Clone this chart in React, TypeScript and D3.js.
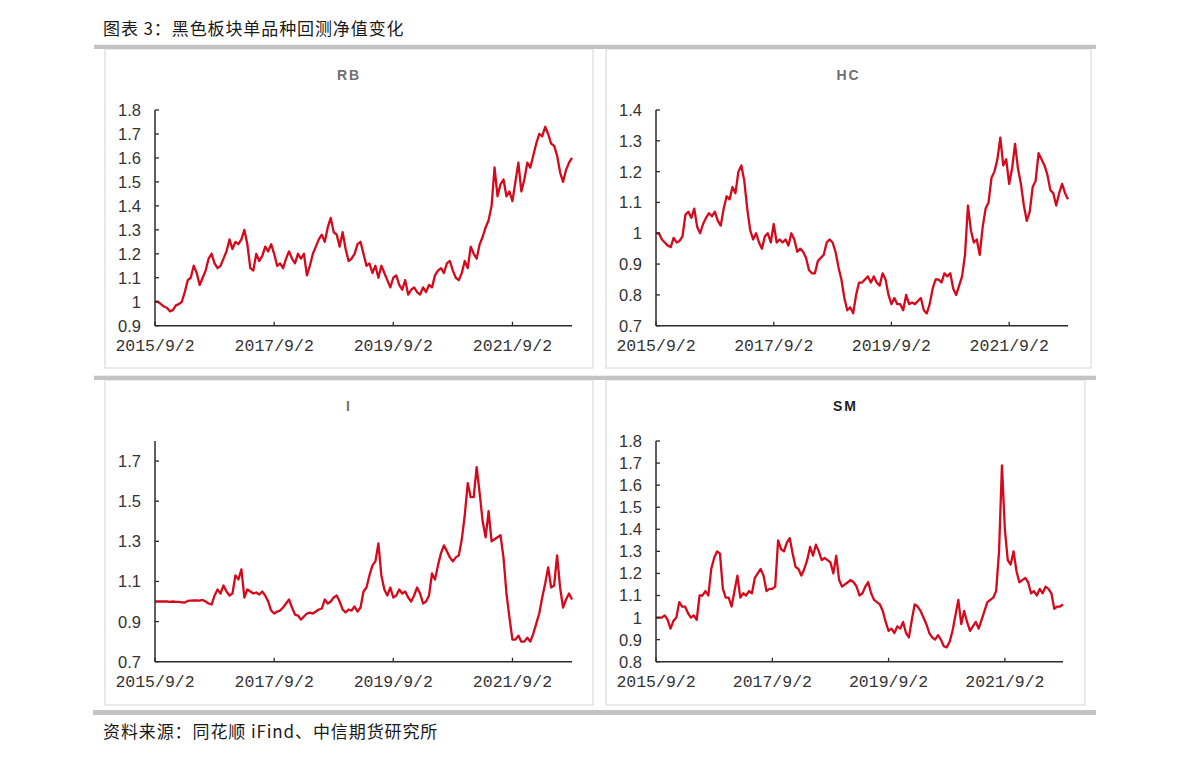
import React from "react";
import * as d3 from "d3";

// ---------- data ----------
const startDate = "2015/9/2";
const endDate = "2022/9/2";
const xTickLabels = ["2015/9/2", "2017/9/2", "2019/9/2", "2021/9/2"];

const rbValues = [
  1.00, 1.00, 0.99, 0.98, 0.975, 0.96, 0.965, 0.985, 0.99, 1.00,
  1.04, 1.09, 1.10, 1.15, 1.12, 1.07, 1.10, 1.13, 1.18, 1.20,
  1.16, 1.14, 1.15, 1.18, 1.21, 1.26, 1.22, 1.25, 1.24, 1.26,
  1.30, 1.24, 1.14, 1.13, 1.20, 1.17, 1.19, 1.23, 1.21, 1.24,
  1.20, 1.15, 1.16, 1.14, 1.18, 1.21, 1.18, 1.16, 1.20, 1.18,
  1.20, 1.11, 1.15, 1.20, 1.23, 1.26, 1.28, 1.25, 1.31, 1.35,
  1.29, 1.28, 1.23, 1.29, 1.22, 1.17, 1.18, 1.20, 1.24, 1.25,
  1.20, 1.15, 1.16, 1.12, 1.15, 1.10, 1.15, 1.12, 1.09, 1.06,
  1.10, 1.11, 1.07, 1.05, 1.09, 1.03, 1.05, 1.06, 1.04, 1.03,
  1.06, 1.04, 1.07, 1.06, 1.11, 1.13, 1.14, 1.12, 1.16, 1.17,
  1.13, 1.10, 1.09, 1.12, 1.17, 1.14, 1.23, 1.20, 1.18, 1.24,
  1.27, 1.31, 1.34, 1.40, 1.56, 1.44, 1.49, 1.51, 1.44, 1.46,
  1.42, 1.50, 1.58, 1.46, 1.51, 1.58, 1.56, 1.61, 1.66, 1.70,
  1.69, 1.73, 1.70, 1.66, 1.65, 1.61, 1.54, 1.50, 1.55, 1.58,
  1.60,
];

const hcValues = [
  1.00, 1.00, 0.98, 0.97, 0.96, 0.955, 0.985, 0.97, 0.975, 0.99,
  1.06, 1.07, 1.05, 1.08, 1.02, 1.00, 1.03, 1.05, 1.065, 1.055,
  1.07, 1.04, 1.025, 1.08, 1.12, 1.11, 1.15, 1.13, 1.20, 1.22,
  1.17, 1.08, 1.01, 0.98, 1.00, 0.97, 0.95, 0.99, 1.00, 0.97,
  1.03, 0.97, 0.98, 0.97, 0.98, 0.96, 1.00, 0.98, 0.94, 0.95,
  0.94, 0.92, 0.88, 0.87, 0.87, 0.91, 0.92, 0.93, 0.97, 0.98,
  0.97, 0.94, 0.89, 0.85, 0.79, 0.75, 0.76, 0.74, 0.80, 0.84,
  0.84, 0.85, 0.86, 0.84, 0.86, 0.84, 0.83, 0.87, 0.85, 0.80,
  0.77, 0.79, 0.77, 0.77, 0.75, 0.80, 0.77, 0.775, 0.77, 0.78,
  0.79, 0.75, 0.74, 0.77, 0.82, 0.85, 0.85, 0.84, 0.87, 0.86,
  0.87, 0.82, 0.80, 0.83, 0.86, 0.93, 1.09, 1.01, 0.97, 0.98,
  0.93, 1.02, 1.08, 1.10, 1.18, 1.20, 1.24, 1.31, 1.22, 1.24,
  1.16, 1.21, 1.29, 1.21, 1.16, 1.09, 1.04, 1.07, 1.15, 1.17,
  1.26, 1.24, 1.22, 1.19, 1.14, 1.13, 1.09, 1.13, 1.16, 1.13,
  1.11,
];

const iValues = [
  1.00, 1.00, 1.00, 1.00, 1.00, 0.998, 1.00, 0.998, 0.998, 0.996,
  0.995, 1.003, 1.004, 1.005, 1.006, 1.004, 1.008, 1.00, 0.99, 0.985,
  1.03, 1.06, 1.04, 1.08, 1.05, 1.03, 1.04, 1.13, 1.11, 1.16,
  1.02, 1.06, 1.05, 1.04, 1.045, 1.035, 1.05, 1.03, 1.00, 0.955,
  0.94, 0.95, 0.955, 0.97, 0.99, 1.01, 0.97, 0.935, 0.93, 0.91,
  0.925, 0.94, 0.945, 0.94, 0.95, 0.96, 0.965, 1.01, 0.99, 1.00,
  1.02, 1.03, 1.00, 0.96, 0.945, 0.96, 0.955, 0.975, 0.95, 0.97,
  1.05, 1.07, 1.13, 1.18, 1.20, 1.29, 1.13, 1.06, 1.03, 1.07,
  1.02, 1.03, 1.06, 1.04, 1.05, 1.02, 1.00, 1.03, 1.07, 1.04,
  0.99, 1.00, 1.03, 1.14, 1.11, 1.18, 1.24, 1.28, 1.25, 1.22,
  1.20, 1.22, 1.23, 1.31, 1.43, 1.59, 1.52, 1.52, 1.67, 1.54,
  1.40, 1.32, 1.45, 1.30, 1.31, 1.32, 1.33, 1.22, 1.04, 0.92,
  0.81, 0.81, 0.83, 0.80, 0.80, 0.82, 0.80, 0.84, 0.89, 0.94,
  1.02, 1.09, 1.17, 1.07, 1.08, 1.23, 1.07, 0.97, 1.01, 1.04,
  1.01,
];

const smValues = [
  1.00, 1.00, 1.00, 1.01, 0.99, 0.95, 0.985, 1.00, 1.07, 1.05,
  1.05, 1.02, 1.00, 1.01, 0.99, 1.10, 1.10, 1.12, 1.10, 1.22,
  1.27, 1.30, 1.29, 1.13, 1.09, 1.09, 1.05, 1.12, 1.19, 1.09,
  1.11, 1.10, 1.12, 1.11, 1.18, 1.20, 1.22, 1.19, 1.12, 1.13,
  1.13, 1.14, 1.35, 1.31, 1.30, 1.34, 1.36, 1.29, 1.23, 1.22,
  1.19, 1.22, 1.26, 1.32, 1.28, 1.33, 1.30, 1.26, 1.27, 1.26,
  1.25, 1.20, 1.28, 1.17, 1.14, 1.15, 1.16, 1.17, 1.16, 1.14,
  1.10, 1.11, 1.14, 1.16, 1.11, 1.08, 1.07, 1.06, 1.03, 0.98,
  0.94, 0.95, 0.93, 0.96, 0.95, 0.98, 0.93, 0.91, 0.99, 1.06,
  1.05, 1.03, 1.00, 0.97, 0.93, 0.91, 0.90, 0.92, 0.90, 0.87,
  0.865, 0.89, 0.94, 1.01, 1.08, 0.97, 1.03, 0.98, 0.94, 0.96,
  0.98, 0.95, 0.99, 1.03, 1.07, 1.08, 1.09, 1.12, 1.30, 1.69,
  1.40, 1.26, 1.24, 1.30, 1.21, 1.16, 1.17, 1.18, 1.16, 1.11,
  1.12, 1.10, 1.13, 1.11, 1.14, 1.13, 1.11, 1.04, 1.05, 1.05,
  1.06,
];

const rbTicks = [0.9, 1.0, 1.1, 1.2, 1.3, 1.4, 1.5, 1.6, 1.7, 1.8];
const hcTicks = [0.7, 0.8, 0.9, 1.0, 1.1, 1.2, 1.3, 1.4];
const iTicks = [0.7, 0.9, 1.1, 1.3, 1.5, 1.7];
const smTicks = [0.8, 0.9, 1.0, 1.1, 1.2, 1.3, 1.4, 1.5, 1.6, 1.7, 1.8];

const chartTitle = "图表 3：黑色板块单品种回测净值变化";
const sourceText = "资料来源：同花顺 iFind、中信期货研究所";

// ---------- layout ----------
const W = 1191;
const H = 764;
const RED = "#d4091b";
const AXIS = "#2b2b2b";
const TEXT = "#333333";

const parseDate = d3.timeParse("%Y/%-m/%-d");

type Panel = {
  name: string;
  nameColor: string;
  values: number[];
  yDomain: [number, number];
  ticks: number[];
  box: { x0: number; x1: number; y0: number; y1: number };
  plot: { x0: number; x1: number; yTop: number; yBot: number };
};

const panels: Panel[] = [
  {
    name: "RB", nameColor: "#707070", values: rbValues, yDomain: [0.9, 1.8], ticks: rbTicks,
    box: { x0: 105, x1: 593, y0: 49, y1: 368 },
    plot: { x0: 155, x1: 572, yTop: 110, yBot: 325.7 },
  },
  {
    name: "HC", nameColor: "#707070", values: hcValues, yDomain: [0.7, 1.4], ticks: hcTicks,
    box: { x0: 606, x1: 1091, y0: 49, y1: 368 },
    plot: { x0: 656, x1: 1068, yTop: 110, yBot: 325.7 },
  },
  {
    name: "I", nameColor: "#707070", values: iValues, yDomain: [0.7, 1.8], ticks: iTicks,
    box: { x0: 105, x1: 593, y0: 380, y1: 705 },
    plot: { x0: 155, x1: 572, yTop: 441, yBot: 661.7 },
  },
  {
    name: "SM", nameColor: "#1e1e1e", values: smValues, yDomain: [0.8, 1.8], ticks: smTicks,
    box: { x0: 606, x1: 1085, y0: 380, y1: 705 },
    plot: { x0: 656, x1: 1063, yTop: 441, yBot: 661.7 },
  },
];

function fmt(v: number) {
  const s = d3.format(".1f")(v);
  return s === "1.0" ? "1" : s;
}

function ChartPanel({ p }: { p: Panel }) {
  const t0 = parseDate(startDate) as Date;
  const t1 = parseDate(endDate) as Date;
  const x = d3.scaleTime().domain([t0, t1]).range([p.plot.x0, p.plot.x1]);
  const y = d3.scaleLinear().domain(p.yDomain).range([p.plot.yBot, p.plot.yTop]);
  const n = p.values.length;
  const idx = d3.scaleLinear().domain([0, n - 1]).range([t0.getTime(), t1.getTime()]);
  const line = d3
    .line<number>()
    .x((_, i) => x(new Date(idx(i))))
    .y((v) => y(v));
  const cx = (p.box.x0 + p.box.x1) / 2;
  const tickDates = xTickLabels.map((s) => parseDate(s) as Date);

  return (
    <g>
      <rect
        x={p.box.x0}
        y={p.box.y0}
        width={p.box.x1 - p.box.x0}
        height={p.box.y1 - p.box.y0}
        fill="#ffffff"
        stroke="#e2e2e2"
        strokeWidth={1.5}
      />
      <text
        x={cx}
        y={p.box.y0 + 31}
        textAnchor="middle"
        fontFamily="'Liberation Sans', Arial, sans-serif"
        fontWeight="bold"
        fontSize={14}
        letterSpacing={2}
        fill={p.nameColor}
      >
        {p.name}
      </text>
      {/* line */}
      <path d={line(p.values) || ""} fill="none" stroke={RED} strokeWidth={2.3} strokeLinejoin="round" />
      {/* y axis */}
      <line x1={p.plot.x0} x2={p.plot.x0} y1={p.plot.yTop} y2={p.plot.yBot} stroke={AXIS} strokeWidth={1.5} />
      {p.ticks.map((t) => (
        <g key={t}>
          <line x1={p.plot.x0} x2={p.plot.x0 + 4} y1={y(t)} y2={y(t)} stroke={AXIS} strokeWidth={1.3} />
          <text
            x={p.plot.x0 - 14}
            y={y(t)}
            dy="0.36em"
            textAnchor="end"
            fontFamily="'Liberation Sans', Arial, sans-serif"
            fontSize={16.5}
            fill={TEXT}
          >
            {fmt(t)}
          </text>
        </g>
      ))}
      {/* x axis */}
      <line x1={p.plot.x0} x2={p.plot.x1} y1={p.plot.yBot} y2={p.plot.yBot} stroke={AXIS} strokeWidth={1.5} />
      {tickDates.map((d, i) => (
        <g key={i}>
          <line x1={x(d)} x2={x(d)} y1={p.plot.yBot} y2={p.plot.yBot - 4} stroke={AXIS} strokeWidth={1.3} />
          <text
            x={x(d)}
            y={p.plot.yBot + 25}
            textAnchor="middle"
            fontFamily="'Liberation Mono', 'DejaVu Sans Mono', monospace"
            fontSize={16.5}
            fill={TEXT}
          >
            {xTickLabels[i]}
          </text>
        </g>
      ))}
    </g>
  );
}

export default function App() {
  return (
    <div style={{ position: "absolute", left: 0, top: 0, width: W, height: H, background: "#fff" }}>
      <svg width={W} height={H} viewBox={`0 0 ${W} ${H}`} style={{ display: "block" }}>
        <rect x={0} y={0} width={W} height={H} fill="#ffffff" />
        <text
          x={103}
          y={35}
          fontFamily="'Noto Sans CJK SC', sans-serif"
          fontSize={17}
          letterSpacing={0.9}
          fill="#1a1a1a"
        >
          {chartTitle}
        </text>
        {panels.map((p) => (
          <ChartPanel key={p.name} p={p} />
        ))}
        <rect x={94} y={44.7} width={1002} height={4.3} fill="#c3c3c3" />
        <rect x={94} y={375.7} width={1002} height={4.3} fill="#c3c3c3" />
        <rect x={93} y={710} width={1003} height={5} fill="#c3c3c3" />
        <text
          x={103}
          y={738}
          fontFamily="'Noto Sans CJK SC', sans-serif"
          fontSize={17}
          letterSpacing={0.9}
          fill="#1a1a1a"
        >
          {sourceText}
        </text>
      </svg>
    </div>
  );
}
